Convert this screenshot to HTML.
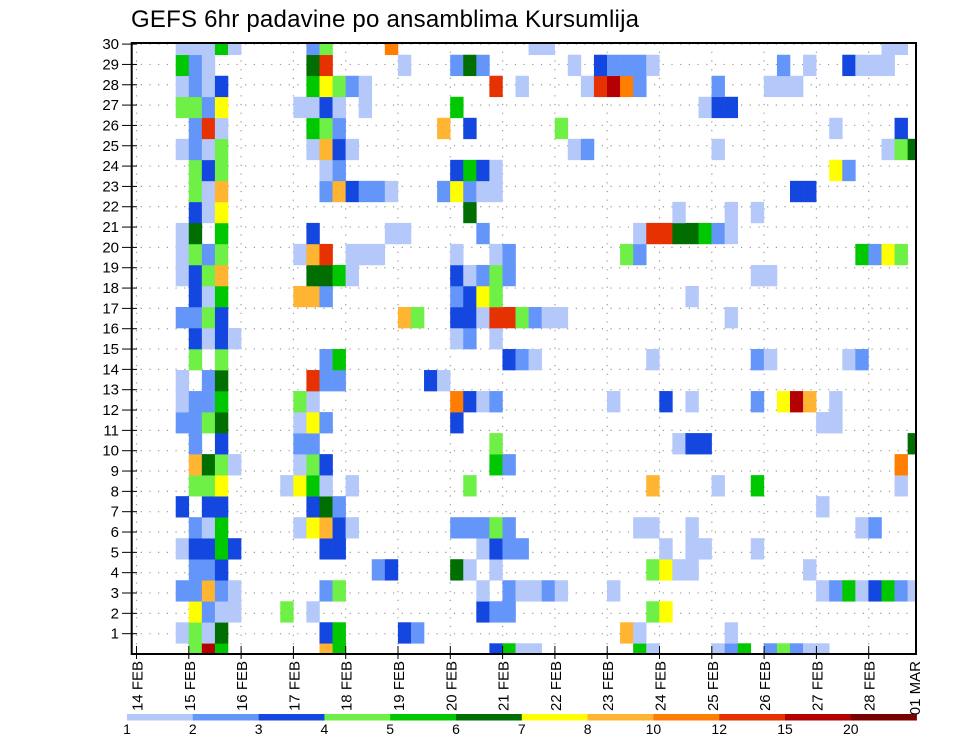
<!DOCTYPE html>
<html><head><meta charset="utf-8"><style>
html,body{margin:0;padding:0;background:#fff;width:960px;height:742px;overflow:hidden}
svg{display:block;font-family:"Liberation Sans",sans-serif}
</style></head><body>
<svg id="chart" width="960" height="742" viewBox="0 0 960 742">
<defs><clipPath id="plotclip"><rect x="132" y="43" width="784" height="611"/></clipPath></defs>
<text x="131" y="27" font-size="24" textLength="508" fill="#000">GEFS 6hr padavine po ansamblima Kursumlija</text>
<g id="grid"></g>
<g id="cells" clip-path="url(#plotclip)"></g>
<rect x="131.7" y="43" width="784.3" height="611" fill="none" stroke="#000" stroke-width="2"/>
<g id="axes"></g>
<g id="cbar"></g>
</svg>
<script>
// ensemble rows (bottom row first), each entry "column:level"
const rows = [
"4:4 5:B 6:5 14:8 15:5 27:3 28:5 29:1 30:1 38:5 39:1 44:1 45:2 46:5 48:2 49:4 50:2 51:1 52:1",
"3:1 4:4 5:1 6:6 14:3 15:5 20:3 21:2 37:8 38:1 45:1",
"4:7 5:2 6:1 7:1 11:4 13:1 26:3 27:2 28:2 39:4 40:7",
"3:2 4:2 5:8 6:2 7:1 14:2 15:4 26:1 28:2 29:1 30:1 31:2 32:1 36:1 52:1 53:2 54:5 55:1 56:3 57:5 58:2 59:1",
"4:2 5:2 6:3 18:2 19:3 24:6 25:1 27:1 39:4 40:7 41:1 42:1 51:1",
"3:1 4:3 5:3 6:5 7:3 14:3 15:3 26:1 27:3 28:2 29:2 40:1 42:1 43:1 47:1",
"4:2 5:1 6:5 12:1 13:7 14:8 15:3 16:1 24:2 25:2 26:2 27:4 28:2 38:1 39:1 42:1 55:1 56:2",
"3:3 5:3 6:3 13:3 14:6 15:2 52:1",
"4:4 5:4 6:7 11:1 12:7 13:5 14:1 16:1 25:4 39:8 44:1 47:5 58:1",
"4:8 5:6 6:4 7:1 12:1 13:4 14:3 27:5 28:2 58:9",
"4:2 6:3 12:2 13:2 27:4 41:1 42:3 43:3 59:6",
"3:2 4:2 5:4 6:6 12:1 13:7 14:2 24:3 52:1 53:1",
"3:1 4:2 5:2 6:5 12:4 13:1 24:9 25:3 26:1 27:2 36:1 40:3 42:1 47:2 49:7 50:B 51:8 53:1",
"3:1 5:2 6:6 13:A 14:2 15:2 22:3 23:1",
"4:4 6:4 14:2 15:5 28:3 29:2 30:1 39:1 47:2 48:1 54:1 55:2",
"4:3 5:1 6:3 7:1 24:1 25:2 27:1",
"3:2 4:2 5:4 6:3 20:8 21:4 24:3 25:3 26:1 27:A 28:A 29:4 30:2 31:1 32:1 45:1",
"4:3 5:1 6:5 12:8 13:8 14:2 24:2 25:3 26:7 27:4 42:1",
"3:1 4:3 5:4 6:8 13:6 14:6 15:5 16:1 24:3 25:1 26:2 27:4 28:2 47:1 48:1",
"3:1 4:4 5:2 6:4 12:1 13:8 14:A 16:1 17:1 18:1 24:1 27:1 28:2 37:4 38:2 55:5 56:2 57:7 58:4",
"3:1 4:6 6:5 13:3 19:1 20:1 26:2 38:1 39:A 40:A 41:6 42:6 43:5 44:2 45:1",
"4:3 5:1 6:7 25:6 41:1 45:1 47:1",
"4:4 5:1 6:8 14:2 15:8 16:3 17:2 18:2 19:1 23:2 24:7 25:2 26:1 27:1 50:3 51:3",
"4:4 5:3 6:4 14:1 15:2 24:3 25:5 26:3 27:1 53:7 54:2",
"3:1 4:2 5:1 6:4 13:1 14:8 15:3 16:1 33:1 34:2 44:1 57:1 58:4 59:6",
"4:2 5:A 6:1 13:5 14:4 15:2 23:8 25:3 32:4 53:1 58:3",
"3:4 4:4 5:2 6:7 12:1 13:1 14:3 15:1 17:1 24:5 43:1 44:3 45:3",
"3:1 4:2 5:1 6:3 13:5 14:7 15:4 16:2 17:1 27:A 29:1 34:1 35:A 36:B 37:9 38:2 44:2 48:1 49:1 50:1",
"3:5 4:2 5:1 13:6 14:A 20:1 24:2 25:6 26:2 33:1 35:3 36:2 37:2 38:2 39:1 49:2 51:1 54:3 55:1 56:1 57:1",
"3:1 4:1 5:1 6:5 7:1 13:2 14:4 19:9 30:1 31:1 57:1 58:1"
];
const levelKeys = ["1","2","3","4","5","6","7","8","9","A","B","C"];
const levelColors = ["#b4c8fa","#6496fa","#1446e0","#6ef046","#00c800","#006e00","#ffff00","#ffb432","#ff7d00","#e63200","#b40000","#780000"];
const colorbarLabels = ["1","2","3","4","5","6","7","8","10","12","15","20"];
const dayLabels = ["14 FEB","15 FEB","16 FEB","17 FEB","18 FEB","19 FEB","20 FEB","21 FEB","22 FEB","23 FEB","24 FEB","25 FEB","26 FEB","27 FEB","28 FEB","01 MAR"];
const yTicks = [1,2,3,4,5,6,7,8,9,10,11,12,13,14,15,16,17,18,19,20,21,22,23,24,25,26,27,28,29,30];

const NS="http://www.w3.org/2000/svg";
const X0=136.5, CW=13.07, DAYW=52.3;
const colX = c => X0 + CW*c;
const dayX = d => X0 + DAYW*d;
const RH=21.02;
const rowTop = r => 643.3 - RH*r;
const tickY = v => 654 - 20.33*v;
function mk(tag, attrs, parent){const e=document.createElementNS(NS,tag);for(const k in attrs)e.setAttribute(k,attrs[k]);parent.appendChild(e);return e;}

const grid=document.getElementById('grid');
yTicks.forEach(v=>{
  const l=mk('line',{x1:132,x2:916,y1:tickY(v),y2:tickY(v),stroke:'#999','stroke-width':1.2,'stroke-dasharray':'1.2 7.5'},grid);
  
  
});
dayLabels.forEach((d,i)=>{
  const x=dayX(i); if(x>915) return;
  const l=mk('line',{x1:x,x2:x,y1:43,y2:654,stroke:'#999','stroke-width':1.2,'stroke-dasharray':'1.2 7.5'},grid);
  
  
});

const cells=document.getElementById('cells');
rows.forEach((row,r)=>{
  row.split(' ').forEach(p=>{
    const [c,lv]=p.split(':');
    const idx=levelKeys.indexOf(lv);
    const rc=mk('rect',{x:colX(+c),y:rowTop(r),width:CW+0.3,height:RH+0.3,fill:levelColors[idx]},cells);
    
    
  });
});

const axes=document.getElementById('axes');
yTicks.forEach(v=>{
  const y=tickY(v);
  const t=mk('line',{x1:122,x2:137,y1:y,y2:y,stroke:'#000','stroke-width':1},axes);
  
  
  const tx=mk('text',{x:119,y:y+5,'font-size':15,'text-anchor':'end',fill:'#000'},axes);
  tx.textContent=v;
  
  
});
dayLabels.forEach((d,i)=>{
  let x=dayX(i);
  if(x<=916){
    const t=mk('line',{x1:x,x2:x,y1:646,y2:659,stroke:'#000','stroke-width':1},axes);
    
    
  }
  const lx=Math.min(x,914);
  const tx=mk('text',{x:0,y:0,'font-size':15,'text-anchor':'end',transform:`translate(${lx+6},661) rotate(-90)`,fill:'#000'},axes);
  tx.textContent=d;
  
  
});

const cbar=document.getElementById('cbar');
const CB0=127, CBW=65.8;
levelColors.forEach((col,i)=>{
  const rc=mk('rect',{x:CB0+CBW*i,y:714,width:CBW+0.3,height:6.5,fill:col},cbar);
  
  
});
colorbarLabels.forEach((lab,i)=>{
  const tx=mk('text',{x:CB0+CBW*i,y:734,'font-size':14,'text-anchor':'middle',fill:'#000'},cbar);
  tx.textContent=lab;
  
  
});
</script>
</body></html>
